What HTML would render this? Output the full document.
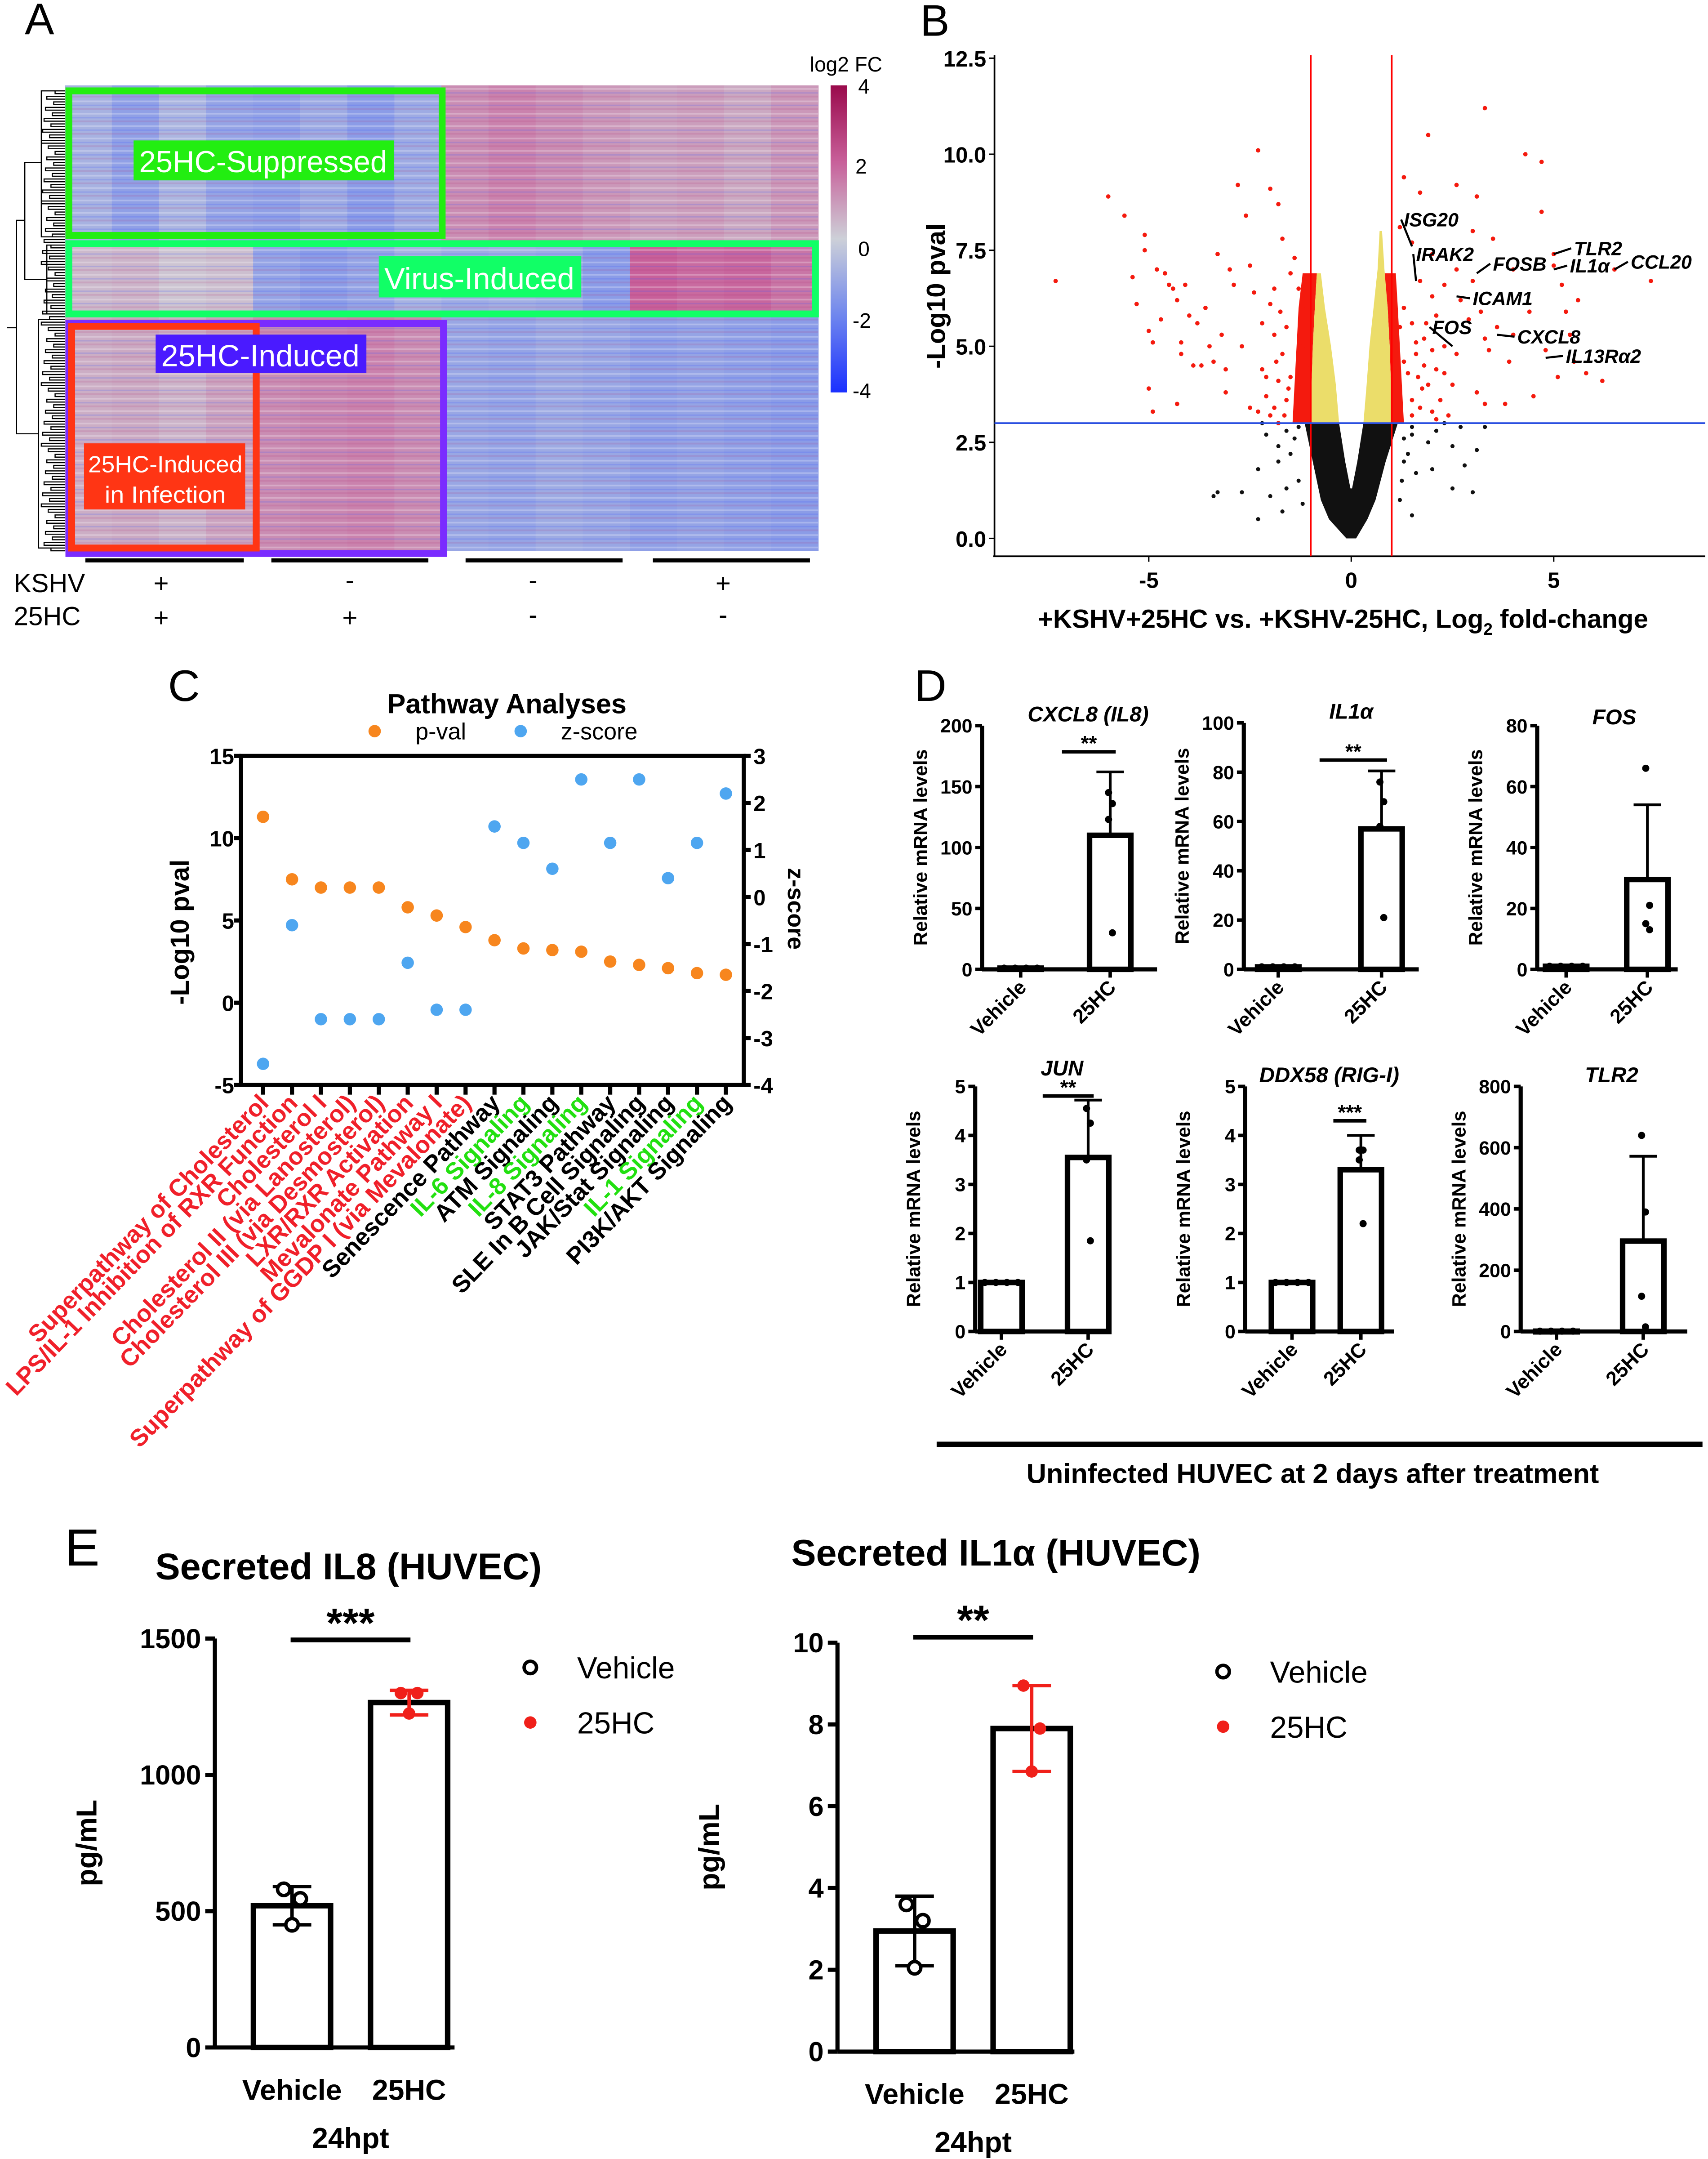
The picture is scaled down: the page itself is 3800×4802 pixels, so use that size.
<!DOCTYPE html>
<html><head><meta charset="utf-8"><style>
html,body{margin:0;padding:0;background:#fff}
svg{display:block}
text{font-family:"Liberation Sans",sans-serif}
.b{font-weight:bold}
</style></head><body>
<svg id="fig" xmlns="http://www.w3.org/2000/svg" width="3800" height="4802" viewBox="0 0 1240 1568" preserveAspectRatio="none">
<defs>
<pattern id="stripes" width="34.2" height="9" patternUnits="userSpaceOnUse">
<rect x="0" y="1" width="34.2" height="1.2" fill="#fff" opacity="0.25"/>
<rect x="0" y="4" width="34.2" height="1" fill="#3050ff" opacity="0.18"/>
<rect x="0" y="6.5" width="34.2" height="1.3" fill="#b03070" opacity="0.15"/>
</pattern>
</defs>
<!-- Panel A -->
<text x="18" y="25" font-size="32">A</text>
<g id="heat"></g>
<g id="dendro" stroke="#000" stroke-width="0.8" fill="none"></g>
<rect x="50" y="66" width="271" height="105" fill="none" stroke="#22ee11" stroke-width="5"/>
<rect x="97" y="102" width="189" height="29" fill="#22ee11"/>
<text x="191" y="125" font-size="22" fill="#fff" text-anchor="middle" textLength="180" lengthAdjust="spacingAndGlyphs">25HC-Suppressed</text>
<rect x="50" y="177" width="542" height="51" fill="none" stroke="#11ff66" stroke-width="5"/>
<rect x="275" y="186" width="147" height="30" fill="#11ff66"/>
<text x="348" y="210" font-size="22" fill="#fff" text-anchor="middle" textLength="138" lengthAdjust="spacingAndGlyphs">Virus-Induced</text>
<rect x="50" y="235" width="272" height="167" fill="none" stroke="#7a2cff" stroke-width="5"/>
<rect x="52" y="237" width="134" height="161" fill="none" stroke="#ff3514" stroke-width="5"/>
<rect x="113" y="243" width="153" height="28" fill="#4a1aff"/>
<text x="189" y="266" font-size="22" fill="#fff" text-anchor="middle" textLength="144" lengthAdjust="spacingAndGlyphs">25HC-Induced</text>
<rect x="61" y="322" width="117" height="48" fill="#ff3514"/>
<text x="120" y="343" font-size="17" fill="#fff" text-anchor="middle" textLength="112" lengthAdjust="spacingAndGlyphs">25HC-Induced</text>
<text x="120" y="365" font-size="17" fill="#fff" text-anchor="middle" textLength="88" lengthAdjust="spacingAndGlyphs">in Infection</text>
<defs><linearGradient id="cbar" x1="0" y1="0" x2="0" y2="1">
<stop offset="0" stop-color="#9a0a4c"/><stop offset="0.25" stop-color="#c8609a"/><stop offset="0.5" stop-color="#cdd0d8"/><stop offset="0.75" stop-color="#6f86ee"/><stop offset="1" stop-color="#1a30ff"/></linearGradient></defs>
<rect x="603" y="62" width="12" height="223" fill="url(#cbar)"/>
<text x="588" y="52" font-size="15">log2 FC</text>
<text x="623" y="68" font-size="15">4</text>
<text x="621" y="126" font-size="15">2</text>
<text x="623" y="186" font-size="15">0</text>
<text x="619" y="238" font-size="15">-2</text>
<text x="619" y="289" font-size="15">-4</text>
<g stroke="#000" stroke-width="3">
<line x1="62" y1="407" x2="177" y2="407"/><line x1="197" y1="407" x2="311" y2="407"/><line x1="338" y1="407" x2="452" y2="407"/><line x1="474" y1="407" x2="588" y2="407"/></g>
<g font-size="19">
<text x="10" y="430">KSHV</text><text x="10" y="454">25HC</text>
<g text-anchor="middle"><text x="117" y="430">+</text><text x="254" y="428">-</text><text x="387" y="428">-</text><text x="525" y="430">+</text>
<text x="117" y="455">+</text><text x="254" y="455">+</text><text x="387" y="453">-</text><text x="525" y="453">-</text></g></g>

<!-- Panel B -->
<text x="668" y="26" font-size="32">B</text>
<g id="volcano"></g>
<text x="975" y="456" font-size="19" class="b" text-anchor="middle">+KSHV+25HC vs. +KSHV-25HC, Log<tspan font-size="12" dy="5">2</tspan><tspan dy="-5"> fold-change</tspan></text>
<text transform="translate(686,215) rotate(-90)" font-size="19" class="b" text-anchor="middle">-Log10 pval</text>

<!-- Panel C -->
<text x="122" y="509" font-size="32">C</text>
<text x="368" y="518" font-size="20" class="b" text-anchor="middle">Pathway Analyses</text>
<circle cx="272" cy="531" r="4.5" fill="#f7861e"/>
<text x="320" y="537" font-size="17" text-anchor="middle">p-val</text>
<circle cx="378" cy="531" r="4.5" fill="#4ea6f0"/>
<text x="435" y="537" font-size="17" text-anchor="middle">z-score</text>
<g id="pathway"></g>
<text transform="translate(137,677) rotate(-90)" font-size="19" class="b" text-anchor="middle">-Log10 pval</text>
<text transform="translate(572,660) rotate(90)" font-size="17" class="b" text-anchor="middle">z-score</text>

<!-- Panel D -->
<text x="664" y="509" font-size="32">D</text>
<g id="dpanel"></g>
<line x1="680" y1="1049" x2="1236" y2="1049" stroke="#000" stroke-width="4"/>
<text x="953" y="1077" font-size="20" class="b" text-anchor="middle">Uninfected HUVEC at 2 days after treatment</text>

<!-- Panel E -->
<text x="47" y="1137" font-size="38">E</text>
<g id="epanel"></g>
</svg>
<script>
const NS='http://www.w3.org/2000/svg';
function mk(tag,attrs,parent,txt){const e=document.createElementNS(NS,tag);for(const k in attrs)e.setAttribute(k,attrs[k]);if(txt!==undefined)e.textContent=txt;parent.appendChild(e);return e;}

/* ---------- Panel A data ---------- */
const heatClusters=['suppressed','virus-induced','induced'];
const heatSuppressed=[-0.8,-1.3,-0.7,-1.2,-1.3,-1.0,-1.4,-1.0,1.2,1.4,1.2,1.0,0.8,0.9,0.7,1.0];
const heatVirus=[0.4,0.5,0.2,0.3,-1.2,-1.4,-1.2,-0.8,-1.0,-0.9,-1.0,-1.4,2.0,1.8,1.9,1.6];
const heatInduced=[0.6,0.7,0.5,0.8,1.2,1.3,1.4,1.2,-1.1,-1.2,-1.0,-1.1,-1.3,-1.2,-1.3,-1.4];
const heatRowSpans=[[62,175],[175,230],[230,400]];
function lerp(a,b,t){return a+(b-a)*t}
function heatColor(v){
  const stops=[[-4,[26,48,255]],[-2,[111,134,238]],[0,[205,208,216]],[2,[200,96,154]],[4,[154,10,76]]];
  v=Math.max(-4,Math.min(4,v));
  for(let i=0;i<stops.length-1;i++){const [a,ca]=stops[i],[b,cb]=stops[i+1];
    if(v<=b){const t=(v-a)/(b-a);return 'rgb('+ca.map((c,j)=>Math.round(lerp(c,cb[j],t))).join(',')+')';}}
  return 'rgb(154,10,76)';
}
(function(){
  const g=document.getElementById('heat');const x0=47,cw=(594-47)/16;
  [heatSuppressed,heatVirus,heatInduced].forEach((arr,ci)=>{
    const [y1,y2]=heatRowSpans[ci];
    arr.forEach((v,j)=>{
      const r=mk('rect',{x:x0+j*cw,y:y1,width:cw+0.3,height:y2-y1,fill:heatColor(v)},g);
      
      
    });
  });
  const t=mk('rect',{x:47,y:62,width:547,height:338,fill:'url(#stripes)'},g);
  
  
  const d=document.getElementById('dendro');
  let p='M47 66 H30 V172 H47 M47 178 H34 V228 H47 M47 232 H28 V398 H47 M30 118 H18 V203 H34 M18 160 H12 V315 H28 M12 238 H5 V238';
  for(let y=66;y<400;y+=4){p+=' M47 '+y+' H'+(40-((y*7)%11))+' V'+(y+2)+' H47';}
  mk('path',{d:p},d);
})();

/* ---------- Panel B data ---------- */
const volcRedX=[-7.3,-6,-5.6,-5.4,-5.3,-5.1,-5.1,-5.0,-4.9,-4.8,-4.7,-4.6,-4.5,-4.4,-4.3,-4.2,-4.2,-4.1,-4.0,-3.9,-3.8,-3.7,-3.6,-3.5,-3.4,-3.3,-3.2,-3.1,-3.0,-2.9,-2.8,-2.7,-2.6,-2.5,-2.4,-2.3,-2.2,-2.1,-2.0,-1.9,-1.8,-1.7,-1.6,-1.5,-1.4,-5.0,-4.9,-4.3,-3.1,-2.5,-2.0,-1.8,-1.3,-1.2,-1.1,-1.3,-1.2,-1.1,-1.5,-1.6,
-1.9,-1.8,-1.7,-2.1,-2.2,-1.9,-1.75,-2.0,-1.65,-1.55,-1.85,-2.3,
3.3,1.9,4.3,4.7,1.3,2.6,1.7,3.1,4.7,1.2,3.0,3.5,1.5,2.0,5.0,5.0,2.6,4.0,6.5,7.4,5.2,1.7,2.3,3.0,2.0,2.7,5.6,3.2,4.4,5.3,1.3,1.5,2.1,2.9,3.6,4.0,1.8,3.3,5.4,2.3,2.6,3.4,4.8,1.6,3.9,5.5,2.1,1.4,5.1,5.8,6.2,2.5,3.1,4.5,1.5,3.3,3.8,2.0,2.4,1.2,1.1,1.1,1.2,1.3,
1.7,1.9,1.8,2.2,1.6,2.0,1.75,2.3,1.5,1.85,2.1,1.65];
const volcRedY=[6.7,8.9,8.4,6.8,6.1,7.9,7.5,5.4,5.1,7.0,5.7,6.9,6.6,6.5,6.2,5.1,4.8,6.6,5.8,4.5,5.6,4.5,6.0,5.0,4.6,7.4,5.3,4.4,7.0,6.6,9.2,5.0,8.4,7.1,6.4,10.1,5.6,4.2,9.1,6.5,8.7,7.8,5.5,6.9,7.3,3.9,3.3,3.5,3.8,3.4,3.2,3.0,4.0,5.0,6.0,6.5,3.5,4.5,4.2,3.6,
3.4,4.1,4.8,3.7,4.4,5.3,5.9,6.1,3.2,3.9,4.6,3.3,
11.2,10.5,10.0,9.8,9.4,9.2,9.0,8.9,8.5,8.1,8.0,7.8,7.7,7.4,7.4,7.1,7.0,7.0,7.0,6.7,6.6,6.7,6.6,6.7,6.3,6.2,6.2,5.9,5.9,5.9,6.0,5.6,5.8,5.7,5.5,5.3,5.2,5.2,5.3,5.0,4.8,4.9,4.9,4.8,4.6,4.6,4.4,4.3,4.2,4.3,4.1,4.0,3.8,3.7,3.6,3.5,3.5,3.3,3.2,3.3,4.8,3.8,5.5,4.6,
3.4,4.0,4.5,3.6,5.1,4.9,3.9,4.3,3.2,5.6,3.1,4.2];
const volcBlackX=[-2.2,-2.1,-1.8,-1.8,-2.3,-2.0,-1.6,-2.7,-1.7,-3.3,-3.4,-2.3,1.5,1.9,2.5,2.8,3.3,3.0,2.5,1.6,2.0,1.5,2.1,3.1,1.3,1.2,-1.3,-1.2,2.7,2.3,-1.4,-1.5,-1.3,-1.6,1.3,1.4,1.5,1.25];
const volcBlackY=[3.0,2.7,2.4,2.0,1.8,1.1,1.3,1.2,0.7,1.2,1.1,0.5,2.7,2.5,2.4,1.9,2.9,1.2,1.3,1.7,1.8,0.6,2.8,2.3,2.0,1.0,1.5,0.9,2.9,3.0,2.6,2.2,2.9,2.8,2.6,2.2,2.9,1.5];
/* density envelopes: y level, left/right log2FC bounds */
const cloudY=[0,0.5,1,2,3];
const cloudLeft=[-0.12,-0.55,-0.75,-0.95,-1.15];
const cloudRight=[0.12,0.4,0.6,0.85,1.15];
const notchY=[1.3,2,3];
const notchLeft=[-0.02,-0.15,-0.3];
const notchRight=[0.02,0.15,0.3];
const yelLY=[3,4,5,6,6.9];
const yelLMin=[-1.0,-0.98,-0.95,-0.9,-0.85];
const yelLMax=[-0.3,-0.38,-0.5,-0.65,-0.75];
const yelRY=[3,4,5,6,7,8];
const yelRMin=[0.3,0.38,0.45,0.55,0.65,0.7];
const yelRMax=[1.0,0.98,0.95,0.9,0.82,0.76];
const redBandY=[3,4,5,6,6.9];
const redBandL=[-1.45,-1.4,-1.35,-1.3,-1.2];
const redBandR=[1.3,1.25,1.2,1.15,1.1];
const volcXTicks=[-5,0,5];
const volcYTicks=[0,2.5,5,7.5,10,12.5];
const volcYLabels=['0.0','2.5','5.0','7.5','10.0','12.5'];
const geneNames=['ISG20','IRAK2','FOSB','TLR2','IL1α','CCL20','ICAM1','FOS','CXCL8','IL13Rα2'];
const geneLabelX=[1.3,1.6,3.5,5.5,5.4,6.9,3.0,2.0,4.1,5.3];
const geneLabelY=[8.3,7.4,7.15,7.55,7.1,7.2,6.25,5.5,5.25,4.75];
const genePtX=[1.5,1.6,3.1,5.0,5.0,6.5,2.6,2.5,3.6,4.8];
const genePtY=[7.6,6.7,6.9,7.4,7.0,7.0,6.3,5.0,5.3,4.7];
(function(){
  const g=document.getElementById('volcano');
  const sx=v=>981+v*29.4, sy=v=>391-v*27.9;
  let a=mk('line',{x1:722,y1:40,x2:722,y2:404,stroke:'#000','stroke-width':1.2},g);
  
  a=mk('line',{x1:721,y1:404,x2:1238,y2:404,stroke:'#000','stroke-width':1.2},g);
  
  volcYTicks.forEach((v,i)=>{
    mk('line',{x1:718,x2:722,y1:sy(v),y2:sy(v),stroke:'#000'},g);
    const t=mk('text',{x:716,y:sy(v)+6,'font-size':16,'font-weight':'bold','text-anchor':'end'},g,volcYLabels[i]);
    
  });
  volcXTicks.forEach(v=>{
    mk('line',{x1:sx(v),x2:sx(v),y1:404,y2:408,stroke:'#000'},g);
    const t=mk('text',{x:sx(v),y:427,'font-size':16,'font-weight':'bold','text-anchor':'middle'},g,String(v));
    
  });
  function env(ys,l,r,fill,name){
    let pts=ys.map((y,i)=>sx(l[i])+','+sy(y));
    pts=pts.concat(ys.map((y,i)=>sx(r[i])+','+sy(y)).reverse());
    const p=mk('polygon',{points:pts.join(' '),fill:fill},g);
    
  }
  env(cloudY,cloudLeft,cloudRight,'#111','nonsig-cloud');
  env(notchY,notchLeft,notchRight,'#fff','nonsig-cloud-gap');
  env(redBandY,redBandL,yelLMin,'#f41a0e','sig-down-band');
  env(redBandY,yelRMax.slice(0,5),redBandR,'#f41a0e','sig-up-band');
  env(yelLY,yelLMin,yelLMax,'#ebdd6a','low-fc-down-cloud');
  env(yelRY,yelRMin,yelRMax,'#ebdd6a','low-fc-up-cloud');
  volcBlackX.forEach((x,i)=>{const c=mk('circle',{cx:sx(x),cy:sy(volcBlackY[i]),r:1.5,fill:'#111'},g);
    });
  volcRedX.forEach((x,i)=>{const c=mk('circle',{cx:sx(x),cy:sy(volcRedY[i]),r:1.6,fill:'#f41a0e'},g);
    });
  let l=mk('line',{x1:sx(-1),x2:sx(-1),y1:40,y2:404,stroke:'#f00','stroke-width':1.2},g);
  
  l=mk('line',{x1:sx(1),x2:sx(1),y1:40,y2:404,stroke:'#f00','stroke-width':1.2},g);
  
  l=mk('line',{x1:722,x2:1238,y1:sy(3),y2:sy(3),stroke:'#2a4fe0','stroke-width':1.2},g);
  
  geneNames.forEach((n,i)=>{
    const t=mk('text',{x:sx(geneLabelX[i]),y:sy(geneLabelY[i])+5,'font-size':14,'font-weight':'bold','font-style':'italic'},g,n);
    
    mk('line',{x1:sx(genePtX[i]),y1:sy(genePtY[i]),x2:sx(geneLabelX[i])-2,y2:sy(geneLabelY[i]),stroke:'#000','stroke-width':1.5},g);
  });
})();

/* ---------- Panel C data ---------- */
const pathNames=['Superpathway of Cholesterol','LPS/IL-1 Inhibition of RXR Function','Cholesterol I','Cholesterol II (via Lanosterol)','Cholesterol III (via Desmosterol)','LXR/RXR Activation','Mevalonate Pathway I','Superpathway of GGDP I (via Mevalonate)','Senescence Pathway','IL-6 Signaling','ATM Signaling','IL-8 Signaling','STAT3 Pathway','SLE In B Cell Signaling','JAK/Stat Signaling','IL-1 Signaling','PI3K/AKT Signaling'];
const pathColors=['#f0202a','#f0202a','#f0202a','#f0202a','#f0202a','#f0202a','#f0202a','#f0202a','#000','#22e010','#000','#22e010','#000','#000','#000','#22e010','#000'];
const pathPval=[11.3,7.5,7.0,7.0,7.0,5.8,5.3,4.6,3.8,3.3,3.2,3.1,2.5,2.3,2.1,1.8,1.7];
const pathZ=[-3.55,-0.6,-2.6,-2.6,-2.6,-1.4,-2.4,-2.4,1.5,1.15,0.6,2.5,1.15,2.5,0.4,1.15,2.2];
const pathLeftTicks=[-5,0,5,10,15];
const pathRightTicks=[-4,-3,-2,-1,0,1,2,3];
(function(){
  const g=document.getElementById('pathway');
  const L=175,R=540,T=549,B=788;
  const syl=v=>B-(v+5)/20*(B-T), syr=v=>B-(v+4)/7*(B-T), sx=i=>191+i*21;
  const f=mk('rect',{x:L,y:T,width:R-L,height:B-T,fill:'none',stroke:'#000','stroke-width':3},g);
  
  pathLeftTicks.forEach(v=>{mk('line',{x1:L-5,x2:L,y1:syl(v),y2:syl(v),stroke:'#000','stroke-width':3},g);
    const t=mk('text',{x:L-5,y:syl(v)+6,'font-size':16,'font-weight':'bold','text-anchor':'end'},g,String(v));
    });
  pathRightTicks.forEach(v=>{mk('line',{x1:R,x2:R+5,y1:syr(v),y2:syr(v),stroke:'#000','stroke-width':3},g);
    const t=mk('text',{x:R+7,y:syr(v)+6,'font-size':16,'font-weight':'bold'},g,String(v));
    });
  pathNames.forEach((n,i)=>{
    mk('line',{x1:sx(i),x2:sx(i),y1:B,y2:B+7,stroke:'#000','stroke-width':3},g);
    const t=mk('text',{transform:'translate('+(sx(i)+5)+','+(B+14)+') rotate(-46)','font-size':17.5,'font-weight':'bold','text-anchor':'end',fill:pathColors[i]},g,n);
    
    const c1=mk('circle',{cx:sx(i),cy:syl(pathPval[i]),r:4.5,fill:'#f7861e'},g);
    
    const c2=mk('circle',{cx:sx(i),cy:syr(pathZ[i]),r:4.5,fill:'#4ea6f0'},g);
    
  });
})();

/* ---------- Panel D data ---------- */
const dGenes=['CXCL8 (IL8)','IL1α','FOS','JUN','DDX58 (RIG-I)','TLR2'];
const dMax=[200,100,80,5,5,800];
const dTickStep=[50,20,20,1,1,200];
const dVehMean=[1,1,1,1,1,1];
const dVehPts=[[1,1,1,1],[1,1,1,1],[1,1,1,1],[1,1,1,1],[1,1,1,1],[1,1,1,1]];
const dHcMean=[110,57,29.5,3.55,3.3,295];
const dHcErr=[52,23.5,24.5,1.17,0.7,277];
const dHcPts=[[145,136,123,30],[76,68,58,21],[66,21,15,13],[4.55,4.25,3.5,1.85],[3.7,3.7,3.5,2.2],[640,390,115,15]];
const dSig=['**','**','','**','***',''];
const dLayout=[
 {ax:713,y0:704,yt:527,vx:741,hx:806,xe:840,tx:790,ty:524,sy:546},
 {ax:903,y0:704,yt:525,vx:928,hx:1003,xe:1030,tx:981,ty:522,sy:552},
 {ax:1116,y0:704,yt:527,vx:1137,hx:1196,xe:1218,tx:1172,ty:526,sy:0},
 {ax:708,y0:967,yt:789,vx:727,hx:790,xe:806,tx:771,ty:781,sy:796},
 {ax:904,y0:967,yt:789,vx:938,hx:988,xe:1012,tx:965,ty:786,sy:814},
 {ax:1104,y0:967,yt:789,vx:1130,hx:1193,xe:1225,tx:1170,ty:786,sy:0}];
(function(){
  const g=document.getElementById('dpanel');
  dGenes.forEach((gene,k)=>{
    const Lo=dLayout[k];const sy=v=>Lo.y0-v/dMax[k]*(Lo.y0-Lo.yt);const bw=30;
    const t=mk('text',{x:Lo.tx,y:Lo.ty,'font-size':15.5,'font-weight':'bold','font-style':'italic','text-anchor':'middle'},g,gene);
    
    mk('line',{x1:Lo.ax,y1:Lo.yt,x2:Lo.ax,y2:Lo.y0,stroke:'#000','stroke-width':3},g);
    mk('line',{x1:Lo.ax,y1:Lo.y0,x2:Lo.xe,y2:Lo.y0,stroke:'#000','stroke-width':3},g);
    for(let v=0;v<=dMax[k]+1e-9;v+=dTickStep[k]){
      mk('line',{x1:Lo.ax-5,x2:Lo.ax,y1:sy(v),y2:sy(v),stroke:'#000','stroke-width':2.5},g);
      const tt=mk('text',{x:Lo.ax-7,y:sy(v)+5,'font-size':14,'font-weight':'bold','text-anchor':'end'},g,String(v));
      
    }
    const yl=mk('text',{transform:'translate('+(Lo.ax-40)+','+((Lo.y0+Lo.yt)/2)+') rotate(-90)','font-size':14,'font-weight':'bold','text-anchor':'middle'},g,'Relative mRNA levels');
    
    [[Lo.vx,dVehMean[k],dVehPts[k],0,'Vehicle'],[Lo.hx,dHcMean[k],dHcPts[k],dHcErr[k],'25HC']].forEach(([cx,m,pts,err,lab])=>{
      if(err>0){mk('line',{x1:cx,x2:cx,y1:sy(m),y2:sy(m+err),stroke:'#000','stroke-width':2},g);
        mk('line',{x1:cx-10,x2:cx+10,y1:sy(m+err),y2:sy(m+err),stroke:'#000','stroke-width':2},g);}
      const b=mk('rect',{x:cx-bw/2,y:sy(m),width:bw,height:Math.max(0.5,Lo.y0-sy(m)),fill:'#fff',stroke:'#000','stroke-width':4},g);
      
      pts.forEach((p,j)=>{const off=(m===1&&pts.every(q=>q===1))?(j-1.5)*8:(j%2?4:-3);
        const c=mk('circle',{cx:cx+off*(lab==='Vehicle'?1:0.4),cy:sy(p),r:2.6,fill:'#000'},g);
        });
      mk('line',{x1:cx,x2:cx,y1:Lo.y0,y2:Lo.y0+6,stroke:'#000','stroke-width':2.5},g);
      const xl=mk('text',{transform:'translate('+(cx+5)+','+(Lo.y0+14)+') rotate(-45)','font-size':14.5,'font-weight':'bold','text-anchor':'end'},g,lab);
      
    });
    if(dSig[k]){mk('line',{x1:Lo.vx+30,x2:Lo.hx+4,y1:Lo.sy,y2:Lo.sy,stroke:'#000','stroke-width':2.5},g);
      const s=mk('text',{x:(Lo.vx+30+Lo.hx+4)/2,y:Lo.sy-1,'font-size':15,'font-weight':'bold','text-anchor':'middle'},g,dSig[k]);
      }
  });
})();

/* ---------- Panel E data ---------- */
const eTitles=['Secreted IL8 (HUVEC)','Secreted IL1α (HUVEC)'];
const eMax=[1500,10];
const eTickStep=[500,2];
const eVehMean=[520,2.95];
const eVehErrHi=[590,3.8];
const eVehErrLo=[450,2.1];
const eVehPts=[[580,545,450],[3.6,3.2,2.05]];
const eHcMean=[1265,7.9];
const eHcErrHi=[1310,8.95];
const eHcErrLo=[1220,6.85];
const eHcPts=[[1300,1300,1225],[8.95,7.9,6.85]];
const eSig=['***','**'];
const eLayout=[{ax:156,y0:1487,yt:1190,vx:212,hx:297,xe:330,tx:253,ty:1147,sy:1191,lx:385,ly:1211},
               {ax:608,y0:1490,yt:1193,vx:664,hx:749,xe:780,tx:723,ty:1137,sy:1189,lx:888,ly:1214}];
(function(){
  const g=document.getElementById('epanel');
  eTitles.forEach((ti,k)=>{
    const Lo=eLayout[k];const sy=v=>Lo.y0-v/eMax[k]*(Lo.y0-Lo.yt);const bw=56;
    const t=mk('text',{x:Lo.tx,y:Lo.ty,'font-size':27,'font-weight':'bold','text-anchor':'middle'},g,ti);
    
    mk('line',{x1:Lo.ax,y1:Lo.yt,x2:Lo.ax,y2:Lo.y0,stroke:'#000','stroke-width':3},g);
    mk('line',{x1:Lo.ax,y1:Lo.y0,x2:Lo.xe,y2:Lo.y0,stroke:'#000','stroke-width':3},g);
    for(let v=0;v<=eMax[k]+1e-9;v+=eTickStep[k]){
      mk('line',{x1:Lo.ax-7,x2:Lo.ax,y1:sy(v),y2:sy(v),stroke:'#000','stroke-width':3},g);
      const tt=mk('text',{x:Lo.ax-10,y:sy(v)+7,'font-size':20,'font-weight':'bold','text-anchor':'end'},g,String(v));
      
    }
    const yl=mk('text',{transform:'translate('+(Lo.ax-86)+','+((Lo.y0+Lo.yt)/2)+') rotate(-90)','font-size':21,'font-weight':'bold','text-anchor':'middle'},g,'pg/mL');
    
    [[Lo.vx,eVehMean[k],eVehErrHi[k],eVehErrLo[k],eVehPts[k],'Vehicle','#000',true],[Lo.hx,eHcMean[k],eHcErrHi[k],eHcErrLo[k],eHcPts[k],'25HC','#f0201a',false]].forEach(([cx,m,hi,lo,pts,lab,col,open])=>{
      const b=mk('rect',{x:cx-bw/2,y:sy(m),width:bw,height:Lo.y0-sy(m),fill:'#fff',stroke:'#000','stroke-width':4},g);
      
      mk('line',{x1:cx,x2:cx,y1:sy(lo),y2:sy(hi),stroke:col,'stroke-width':2.5},g);
      mk('line',{x1:cx-14,x2:cx+14,y1:sy(hi),y2:sy(hi),stroke:col,'stroke-width':2.5},g);
      mk('line',{x1:cx-14,x2:cx+14,y1:sy(lo),y2:sy(lo),stroke:col,'stroke-width':2.5},g);
      pts.forEach((p,j)=>{const c=mk('circle',{cx:cx+(j===0?-6:j===1?6:0),cy:sy(p),r:4.5,fill:open?'#fff':col,stroke:open?'#000':'none','stroke-width':2.5},g);
        });
      const xl=mk('text',{x:cx,y:Lo.y0+38,'font-size':21,'font-weight':'bold','text-anchor':'middle'},g,lab);
      
    });
    const h=mk('text',{x:(Lo.vx+Lo.hx)/2,y:Lo.y0+73,'font-size':21,'font-weight':'bold','text-anchor':'middle'},g,'24hpt');
    
    mk('line',{x1:Lo.vx-1,x2:Lo.hx+1,y1:Lo.sy,y2:Lo.sy,stroke:'#000','stroke-width':3.5},g);
    const s=mk('text',{x:(Lo.vx+Lo.hx)/2,y:Lo.sy-2,'font-size':30,'font-weight':'bold','text-anchor':'middle'},g,eSig[k]);
    
    const c1=mk('circle',{cx:Lo.lx,cy:Lo.ly,r:4.5,fill:'#fff',stroke:'#000','stroke-width':2.5},g);
    
    const l1=mk('text',{x:Lo.lx+34,y:Lo.ly+8,'font-size':22},g,'Vehicle');
    
    const c2=mk('circle',{cx:Lo.lx,cy:Lo.ly+40,r:4.5,fill:'#f0201a'},g);
    
    const l2=mk('text',{x:Lo.lx+34,y:Lo.ly+48,'font-size':22},g,'25HC');
    
  });
})();
</script>
</body></html>
